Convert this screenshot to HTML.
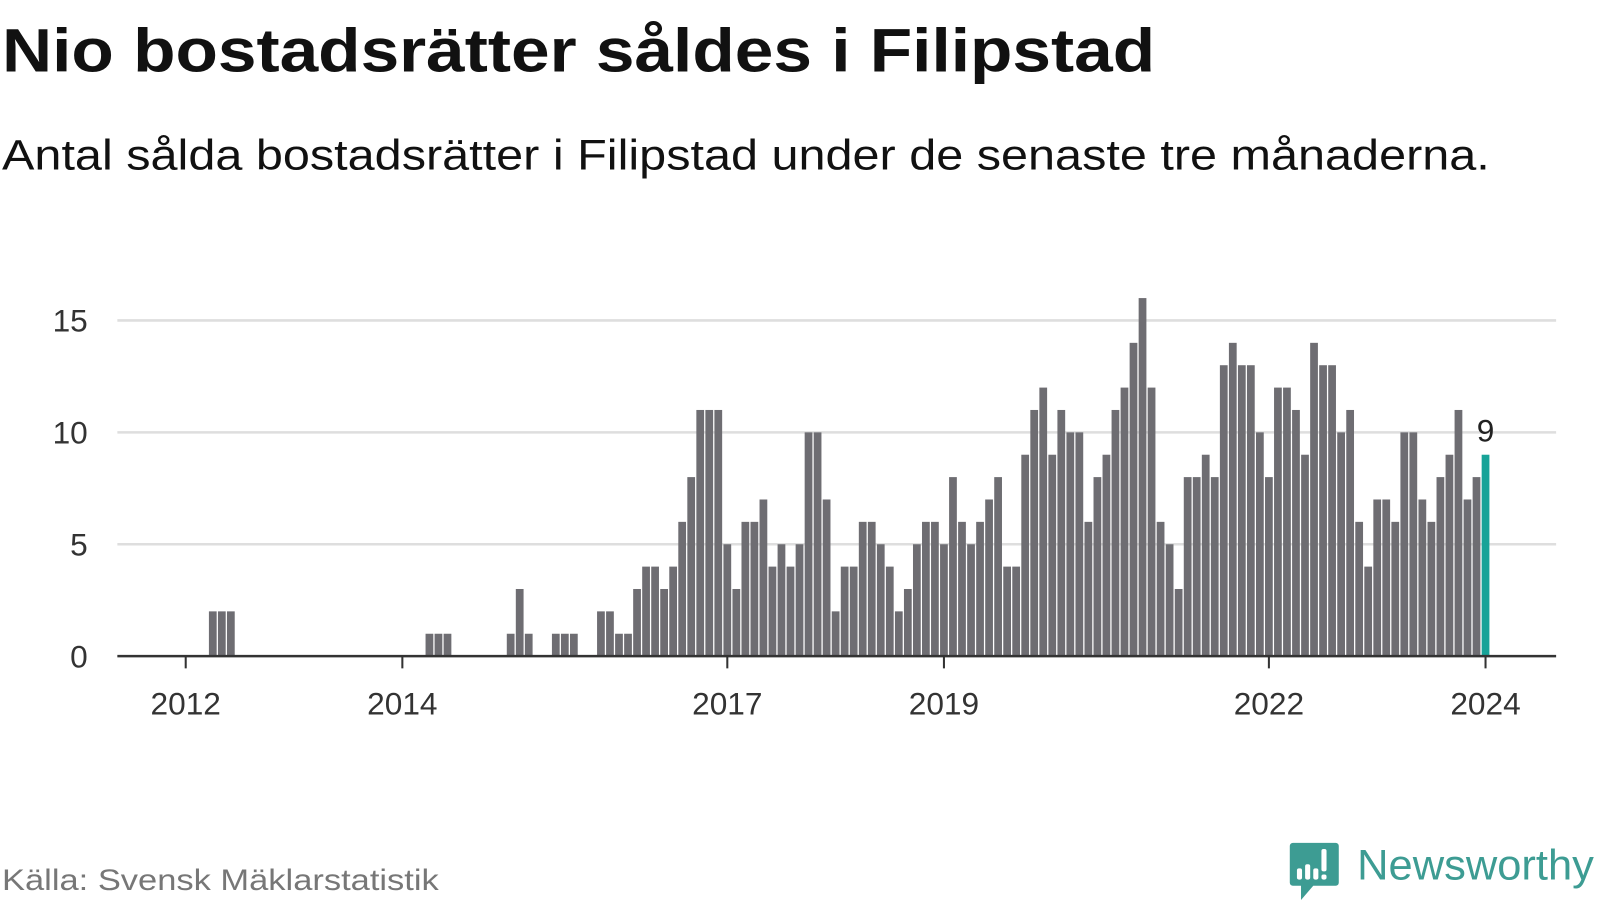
<!DOCTYPE html>
<html><head><meta charset="utf-8"><style>
html,body{margin:0;padding:0;background:#fff;}
svg{display:block;font-family:"Liberation Sans","DejaVu Sans",sans-serif;}
</style></head><body>
<svg id="chart" width="1600" height="900" viewBox="0 0 1568 882">
<text x="2" y="70" font-size="60" font-weight="bold" fill="#111" textLength="1130" lengthAdjust="spacingAndGlyphs">Nio bostadsrätter såldes i Filipstad</text>
<text x="2" y="166" font-size="42" fill="#111" textLength="1458" lengthAdjust="spacingAndGlyphs">Antal sålda bostadsrätter i Filipstad under de senaste tre månaderna.</text>
<g id="grid"></g>
<g id="bars"></g>
<g id="xaxis"></g>
<text x="2" y="872" font-size="29" fill="#777" textLength="428" lengthAdjust="spacingAndGlyphs">Källa: Svensk Mäklarstatistik</text>
<g>
<path d="M1267 826 h42 a3 3 0 0 1 3 3 v36 a3 3 0 0 1 -3 3 h-22 l-12 14 v-14 h-8 a3 3 0 0 1 -3 -3 v-36 a3 3 0 0 1 3 -3z" fill="#3d9c93"/>
<rect x="1271" y="851" width="5" height="11" rx="2" fill="#fff"/>
<rect x="1279" y="847" width="5" height="15" rx="2" fill="#fff"/>
<rect x="1287" y="851" width="5" height="11" rx="2" fill="#fff"/>
<rect x="1295" y="832" width="5" height="22" rx="2" fill="#fff"/>
<rect x="1295" y="857" width="5" height="5" rx="2" fill="#fff"/>
<text x="1330" y="862" font-size="42" fill="#3d9c93" textLength="232" lengthAdjust="spacingAndGlyphs">Newsworthy</text>
</g>
</svg>
<script>
const values = [0,0,0,2,2,2,0,0,0,0,0,0,
0,0,0,0,0,0,0,0,0,0,0,0,
0,0,0,1,1,1,0,0,0,0,0,0,
1,3,1,0,0,1,1,1,0,0,2,2,
1,1,3,4,4,3,4,6,8,11,11,11,
5,3,6,6,7,4,5,4,5,10,10,7,
2,4,4,6,6,5,4,2,3,5,6,6,
5,8,6,5,6,7,8,4,4,9,11,12,
9,11,10,10,6,8,9,11,12,14,16,12,
6,5,3,8,8,9,8,13,14,13,13,10,
8,12,12,11,9,14,13,13,10,11,6,4,
7,7,6,10,10,7,6,8,9,11,7,8,
9];
const yTicks = [0,5,10,15];
const xTickYears = [2012,2014,2017,2019,2022,2024];
const startYear = 2012;

const NS="http://www.w3.org/2000/svg";
const x0=182, step=8.846, y0=643, yk=21.93;
const xs = i => x0 + i*step;
const ys = v => y0 - v*yk;
function mk(tag, attrs, parent){const e=document.createElementNS(NS,tag);for(const k in attrs)e.setAttribute(k,attrs[k]);parent.appendChild(e);return e;}
const grid=document.getElementById('grid'), bars=document.getElementById('bars'), xa=document.getElementById('xaxis');
yTicks.forEach(t=>{
  if(t>0){const l=mk('line',{x1:115,x2:1525,y1:ys(t),y2:ys(t),stroke:'#dedede','stroke-width':2.5},grid);
  
  }
  const tx=mk('text',{x:86,y:ys(t)+11,'font-size':31,fill:'#333','text-anchor':'end'},grid);
  tx.textContent=t;
  
  
});
const last=values.length-1;
values.forEach((v,i)=>{
  if(v<=0)return;
  const r=mk('rect',{x:xs(i)-3.8,y:ys(v),width:7.6,height:v*yk,fill:i===last?'#17a398':'#6e6d72'},bars);
  
  
});
const lbl=mk('text',{x:xs(last),y:ys(values[last])-13,'font-size':31,fill:'#222','text-anchor':'middle'},bars);
lbl.textContent=values[last];


const ax=mk('line',{x1:115,x2:1525,y1:y0,y2:y0,stroke:'#333','stroke-width':2.5},xa);


xTickYears.forEach(yr=>{
  const x=xs((yr-startYear)*12);
  const tk=mk('line',{x1:x,x2:x,y1:y0,y2:y0+12,stroke:'#333','stroke-width':2},xa);
  
  
  const t=mk('text',{x:x,y:700,'font-size':31,fill:'#333','text-anchor':'middle'},xa);
  t.textContent=yr;
  
  
});
</script>
</body></html>
